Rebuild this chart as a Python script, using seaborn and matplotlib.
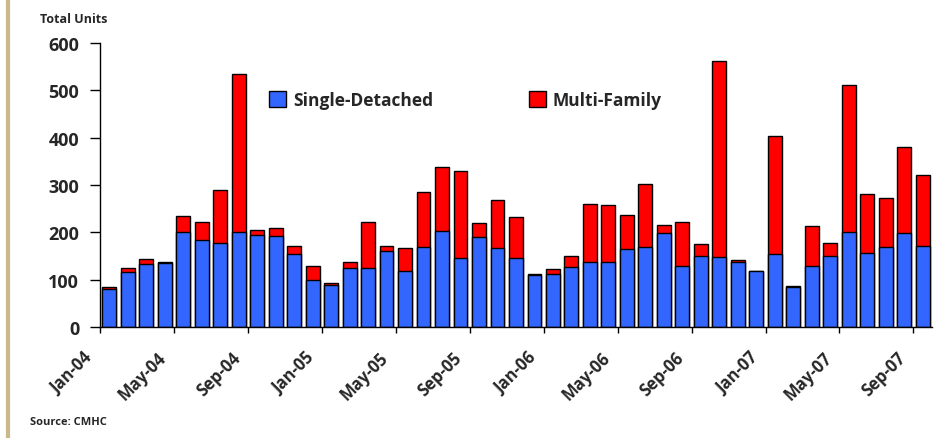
import matplotlib
matplotlib.use("Agg")
import matplotlib.pyplot as plt
import matplotlib.transforms as mtransforms
from matplotlib.patches import Patch
from matplotlib.lines import Line2D
import seaborn as sns
import pandas as pd
import numpy as np

months = pd.date_range("2004-01-01", "2007-09-01", freq="MS").strftime("%b-%y").tolist()
single_detached = [80, 116, 133, 135, 201, 184, 177, 201, 195, 192, 154, 100,
                   89, 125, 125, 160, 118, 169, 202, 146, 191, 167, 146, 110,
                   113, 126, 138, 138, 164, 169, 199, 129, 151, 148, 137, 118,
                   154, 84, 129, 149, 201, 156, 169, 199, 172]
multi_family = [4, 9, 10, 2, 34, 38, 113, 334, 9, 17, 18, 28,
                4, 12, 97, 12, 48, 116, 136, 184, 29, 101, 86, 3,
                10, 25, 121, 119, 72, 134, 17, 92, 25, 414, 5, 1,
                249, 2, 84, 28, 311, 125, 104, 181, 149]

df = pd.DataFrame({"month": months, "single": single_detached, "multi": multi_family})
df["total"] = df["single"] + df["multi"]

sns.set_style("white")
plt.rcParams["font.family"] = ["Open Sans", "DejaVu Sans"]
plt.rcParams["font.weight"] = "bold"

fig = plt.figure(figsize=(9.4, 4.39), dpi=100)
ax = fig.add_axes([0.1064, 0.2528, 0.885, 0.647])

blue = "#3366FF"
red = "#FF0000"

# stacked: totals in red behind, single-detached in blue in front
sns.barplot(data=df, x="month", y="total", order=months, color=red, saturation=1,
            edgecolor="black", linewidth=1, width=0.75, ax=ax)
sns.barplot(data=df, x="month", y="single", order=months, color=blue, saturation=1,
            edgecolor="black", linewidth=1, width=0.75, ax=ax)

ax.set_xlim(-0.5, len(months) - 0.5)
ax.set_ylim(0, 600)
ax.set_yticks(np.arange(0, 601, 100))
ax.set_yticklabels([str(v) for v in range(0, 601, 100)], fontsize=13, fontweight="bold")
ax.tick_params(axis="y", direction="out", length=7, width=1, color="black", pad=8, left=True)

# tick marks between groups of four months, labels on every fourth month
ax.set_xticks(np.arange(-0.5, len(months), 4))
ax.set_xticklabels([])
ax.tick_params(axis="x", which="major", direction="out", length=4, width=1, color="black", bottom=True)
label_pos = np.arange(0, len(months), 4)
ax.set_xticks(label_pos, minor=True)
ax.set_xticklabels([months[i] for i in label_pos], minor=True, rotation=45,
                   ha="right", va="top", rotation_mode="anchor",
                   fontsize=12, fontweight="bold")
ax.tick_params(axis="x", which="minor", length=0, pad=15)
offset = mtransforms.ScaledTranslation(-26 / 100, 0, fig.dpi_scale_trans)
for lbl in ax.get_xticklabels(minor=True):
    lbl.set_transform(lbl.get_transform() + offset)

ax.set_xlabel("")
ax.set_ylabel("")
for side in ["top", "right"]:
    ax.spines[side].set_visible(False)
for side in ["left", "bottom"]:
    ax.spines[side].set_color("black")
    ax.spines[side].set_linewidth(1)

handles = [Patch(facecolor=blue, edgecolor="black", label="Single-Detached"),
           Patch(facecolor=red, edgecolor="black", label="Multi-Family")]
fig.legend(handles=handles, loc="center", bbox_to_anchor=(0.495, 0.77), ncol=2,
           frameon=False, columnspacing=5.5, handlelength=1.0, handleheight=1.0,
           handletextpad=0.4, prop={"size": 12.5, "weight": "bold"})

fig.text(0.043, 0.955, "Total Units", fontsize=9, fontweight="bold", ha="left", va="center")
fig.text(0.032, 0.037, "Source: CMHC", fontsize=8, fontweight="bold", ha="left", va="center")

# tan rule down the left edge
fig.add_artist(Line2D([0.009, 0.009], [0.0, 1.0], transform=fig.transFigure,
                      color="#C8B88A", linewidth=3))

fig.savefig("out.png", dpi=100)
